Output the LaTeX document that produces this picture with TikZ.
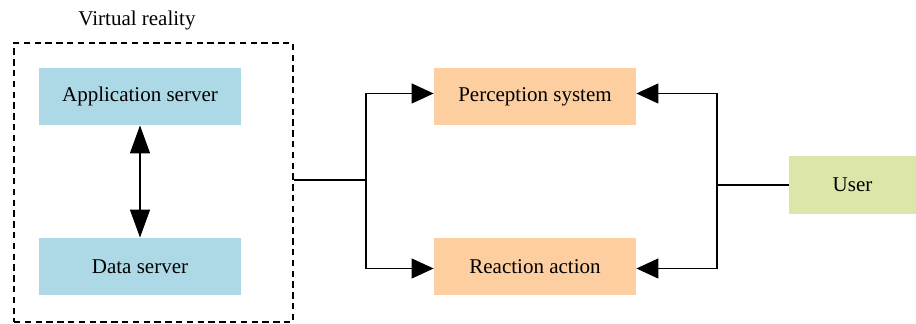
\documentclass[tikz,border=0pt]{standalone}
\usepackage{fontspec}
\setmainfont{Liberation Serif}
\usetikzlibrary{arrows.meta}
\definecolor{serverblue}{RGB}{173,216,230}
\definecolor{peach}{RGB}{253,206,160}
\definecolor{usergreen}{RGB}{221,230,169}
\begin{document}
\begin{tikzpicture}[x=0.5pt,y=-0.5pt]
  \tikzset{%
    box/.style={minimum width=101pt,minimum height=28.5pt,inner sep=0pt,
      font=\fontsize{10.5}{12}\selectfont},
    link/.style={line width=0.65pt},
    tip/.tip={Triangle[length=11pt,width=10pt]},
    longtip/.tip={Triangle[length=14pt,width=10pt]},%<- app <-> data
    arrow/.style={link,-tip},
  }
  \useasboundingbox (0,0) rectangle (916,324);
  % virtual reality side
  \node[draw,dash pattern=on 3.2pt off 2.2pt,line width=0.7pt,minimum width=139.5pt,
    minimum height=139.5pt] (vr) at (153.5,182.5) {};
  \node[font=\fontsize{10.5}{12}\selectfont] (vrlabel) at (137,20) {Virtual reality};
  \node[box,fill=serverblue] (app) at (140,96.5) {Application server};
  \node[box,fill=serverblue] (data) at (140,266.5) {Data server};
  \draw[link,longtip-longtip] (app) -- (data);
  % middle column
  \node[box,fill=peach] (perc) at (535,96.5) {Perception system};
  \node[box,fill=peach] (react) at (535,266.5) {Reaction action};
  \node[box,fill=usergreen,minimum width=63.5pt,minimum height=29pt] (user)
    at (852.5,185) {User};
  % connectors
  \coordinate (jl) at (366,180);
  \coordinate (jr) at (717,185);
  \draw[link] (vr.east |- jl) -- (jl);
  \draw[arrow] (jl) |- ([yshift=1.5pt]perc.west);
  \draw[arrow] (jl) |- ([yshift=-1pt]react.west);
  \draw[link] (user.west) -- (jr);
  \draw[arrow] (jr) |- ([yshift=1.5pt]perc.east);
  \draw[arrow] (jr) |- ([yshift=-1pt]react.east);
\end{tikzpicture}
\end{document}
